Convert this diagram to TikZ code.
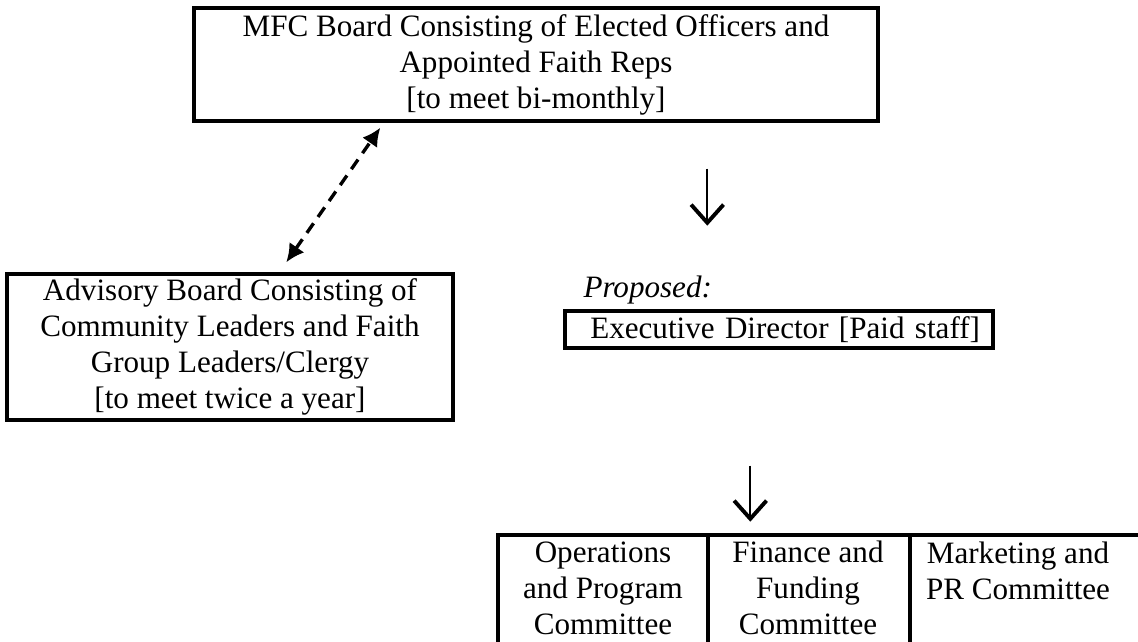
\documentclass[tikz,border=0pt]{standalone}
\usepackage{fontspec}
\setmainfont{Liberation Serif}
\usepackage{tikz}
\usetikzlibrary{arrows.meta,positioning}
\def\px{0.3859pt}
\tikzstyle{board} = [rectangle, draw=black, line width=1.3pt, align=center, inner sep=0pt, font=\fontsize{12}{13.9}\selectfont]
\tikzstyle{cell} = [align=center, inner sep=0pt, font=\fontsize{12}{13.9}\selectfont]
\tikzstyle{downarrow} = [line width=0.9pt, -{Straight Barb[length=7pt,width=12.5pt,line width=1.5pt]}]
\tikzstyle{dashlink} = [line width=1.3pt, dash pattern=on 4.5pt off 3pt, {Latex[length=7pt,width=7pt]}-{Latex[length=7pt,width=7pt]}]
\tikzstyle{grid} = [line width=1.3pt]

\begin{document}
\begin{tikzpicture}[x=\px, y=-\px]
\useasboundingbox (0,0) rectangle (1138,642);
% Boards
\node (mfc) [board, minimum width=684*\px, minimum height=113*\px] at (536,64.5) {MFC Board Consisting of Elected Officers and\\Appointed Faith Reps\\{[to meet bi-monthly]}};
\node (adv) [board, minimum width=446*\px, minimum height=146*\px] at (230,347) {Advisory Board Consisting of\\Community Leaders and Faith\\Group Leaders/Clergy\\{[to meet twice a year]}};
\node (exec) [board, minimum width=428*\px, minimum height=37*\px, text width=402*\px, inner xsep=13*\px, align=right] at (779,329.5) {Executive Director [Paid staff]};
\node (prop) [cell, anchor=west, font=\fontsize{12}{13.9}\selectfont\itshape] at (583,290) {Proposed:};

% Arrows
\coordinate (mfcTip) at ([shift={(188,5)}]mfc.south west);
\coordinate (advTip) at ([shift={(281,-10)}]adv.north west);
\draw[dashlink] (advTip) -- (mfcTip);
\coordinate (down1a) at ([shift={(515,46)}]mfc.south west);
\coordinate (down1b) at ([shift={(515,103)}]mfc.south west);
\draw[downarrow] (down1a) -- (down1b);
\coordinate (down2a) at ([shift={(187,116)}]exec.south west);
\coordinate (down2b) at ([shift={(187,172)}]exec.south west);
\draw[downarrow] (down2a) -- (down2b);

% Committees
\node (ops) [cell] at (603,588) {Operations\\and Program\\Committee};
\node (fin) [cell] at (808,588) {Finance and\\Funding\\Committee};
\node (mkt) [cell] at (1018,570.5) {Marketing and\\PR Committee};
\draw[grid] (498,660) -- (498,535) -- (1150,535);
\draw[grid] (708,535) -- (708,660);
\draw[grid] (910,535) -- (910,660);
\end{tikzpicture}
\end{document}
